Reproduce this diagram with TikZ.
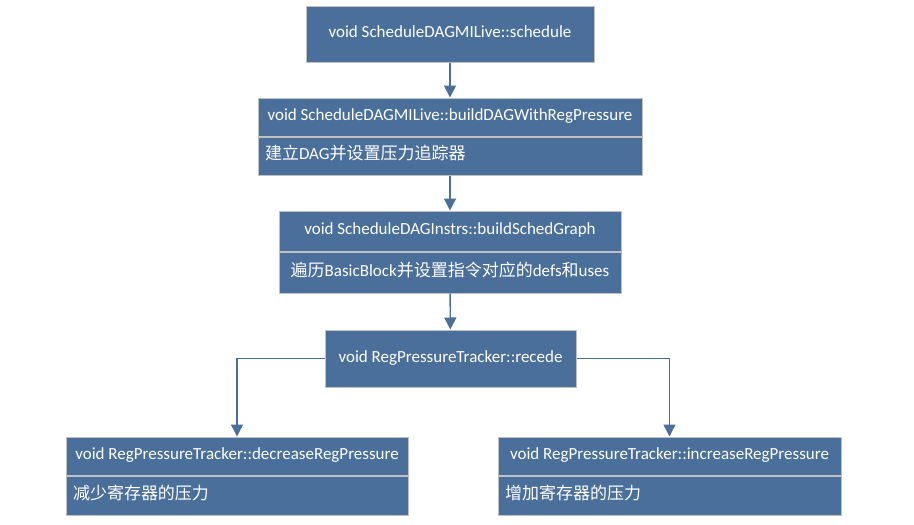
\documentclass[tikz,border=0pt]{standalone}
\usepackage{fontspec}
\setmainfont{Carlito}
\newfontfamily\cjk{Noto Sans CJK SC}
\usepackage{tikz}
\usetikzlibrary{positioning,arrows.meta}
\definecolor{boxblue}{RGB}{74,111,155}
\definecolor{boxedge}{RGB}{192,192,192}
\tikzset{
	call flow/.style={
		x=1pt,y=-1pt,
		node distance=0pt,
		font=\fontsize{17}{20}\selectfont
	},
	func box/.style={
		rectangle,
		draw=boxedge,
		line width=1pt,
		fill=boxblue,
		text=white,
		inner sep=0pt,
		text height=1.8ex,text depth=.2ex % keep baselines level
	},
	note box/.style={
		func box,
		inner xsep=7pt,
		align=left
	},
	note centered/.style={
		func box,
		align=center
	},
	flow arrow/.style={
		draw=boxblue,
		line width=1.4pt,
		-{Triangle[width=12pt,length=12pt]}
	}
}

\begin{document}
\begin{tikzpicture}[call flow]
		\useasboundingbox (0,0) rectangle (914,525);
		% call chain
		\node[func box,minimum width=288pt,minimum height=56pt] (schedule) at (450,34) {void ScheduleDAGMILive::schedule};
		\node[func box,minimum width=384pt,minimum height=38pt] (builddag) at (450,117) {void ScheduleDAGMILive::buildDAGWithRegPressure};
		\node[note box,text width=370pt,minimum height=38pt,below=of builddag] (builddagnote) {{\cjk 建立}DAG{\cjk 并设置压力追踪器}};
		\node[func box,minimum width=342pt,minimum height=40pt] (schedgraph) at (450,231) {void ScheduleDAGInstrs::buildSchedGraph};
		\node[note centered,minimum width=342pt,minimum height=41pt,below=of schedgraph] (schedgraphnote) {{\cjk 遍历}BasicBlock{\cjk 并设置指令对应的}defs{\cjk 和}uses};
		\node[func box,minimum width=251pt,minimum height=57pt] (recede) at (450.5,358.5) {void RegPressureTracker::recede};
		% the two branches
		\node[func box,minimum width=342pt,minimum height=38pt] (decrease) at (237,456) {void RegPressureTracker::decreaseRegPressure};
		\node[note box,text width=328pt,minimum height=39pt,below=of decrease] (decreasenote) {{\cjk 减少寄存器的压力}};
		\node[func box,minimum width=343pt,minimum height=38pt] (increase) at (669.5,456) {void RegPressureTracker::increaseRegPressure};
		\node[note box,text width=329pt,minimum height=39pt,below=of increase] (increasenote) {{\cjk 增加寄存器的压力}};
		% connectors
		\draw[flow arrow] (schedule) -- (builddag);
		\draw[flow arrow] (builddagnote) -- (schedgraph);
		\draw[flow arrow] (schedgraphnote) -- (recede);
		\draw[flow arrow] (recede.west) -| (decrease.north);
		\draw[flow arrow] (recede.east) -| (increase.north);
	\end{tikzpicture}
\end{document}
